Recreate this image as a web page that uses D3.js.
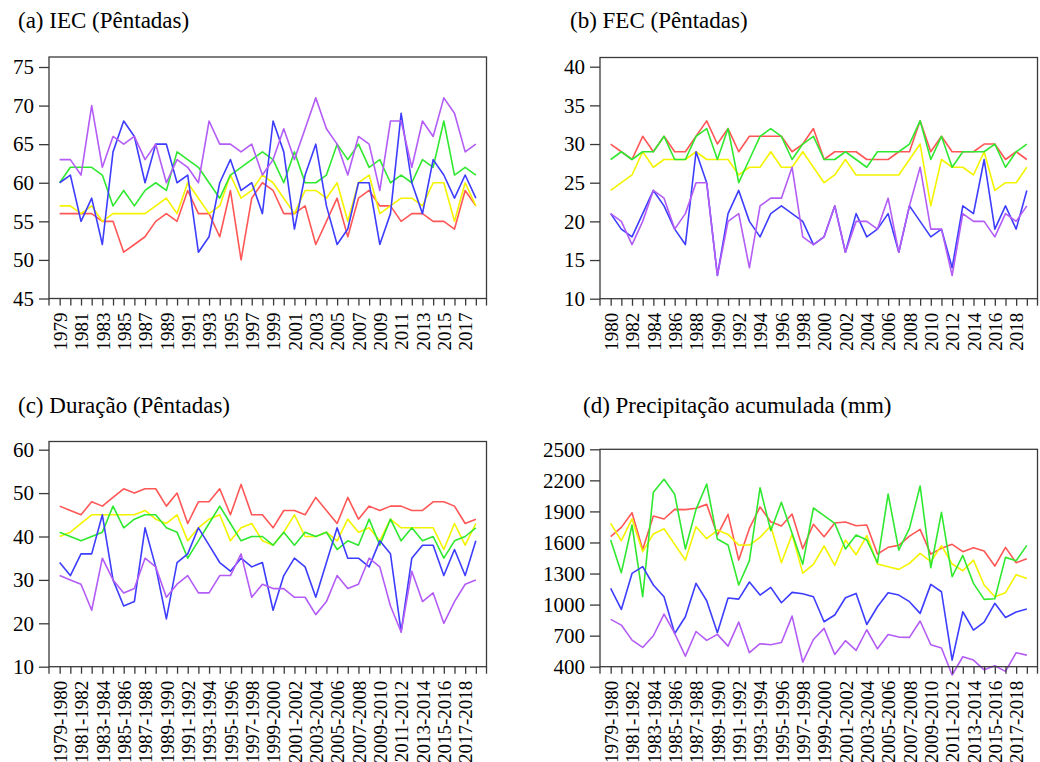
<!DOCTYPE html>
<html>
<head>
<meta charset="utf-8">
<script src="https://cdn.jsdelivr.net/npm/d3@7"></script>
<style>
  body { margin: 0; background: #fff; }
  svg { display: block; }
  text { font-family: "Liberation Serif", "Times New Roman", serif; fill: #000; }
</style>
</head>
<body>
<svg id="chart" width="1040" height="762"></svg>
<script>
// ---- Categories (x axis) ----
const yearsA = d3.range(1979, 2019).map(String);            // IEC: 1979..2018
const yearsB = d3.range(1980, 2020).map(String);            // FEC: 1980..2019
const seasons = d3.range(1979, 2019).map(y => y + "-" + (y + 1)); // 1979-1980..2018-2019

// ---- Y tick values ----
const ticksA = [45, 50, 55, 60, 65, 70, 75];
const ticksB = [10, 15, 20, 25, 30, 35, 40];
const ticksC = [10, 20, 30, 40, 50, 60];
const ticksD = [400, 700, 1000, 1300, 1600, 1900, 2200, 2500];

// ---- (a) IEC, pentads ----
const iecRed    = [56,56,56,56,55,55,51,52,53,55,56,55,59,56,56,53,59,50,58,60,59,56,56,57,52,55,58,53,58,59,57,57,55,56,56,55,55,54,59,57];
const iecYellow = [57,57,56,57,55,56,56,56,56,57,58,56,60,58,56,57,61,58,59,61,60,58,56,59,59,58,60,55,60,61,56,57,58,58,57,60,60,55,60,57];
const iecGreen  = [60,62,62,62,61,57,59,57,59,60,59,64,63,62,60,58,61,62,63,64,63,60,64,60,60,61,65,63,65,62,63,60,61,60,63,62,68,61,62,61];
const iecBlue   = [60,61,55,58,52,64,68,66,60,65,65,60,61,51,53,60,63,59,60,56,68,64,54,61,65,57,52,54,60,60,52,56,69,60,56,63,61,58,61,58];
const iecPurple = [63,63,61,70,62,66,65,66,63,65,60,63,62,60,68,65,65,64,65,61,63,67,63,67,71,67,65,61,66,65,59,68,68,62,68,66,71,69,64,65];

// ---- (b) FEC, pentads ----
const fecRed    = [30,29,28,31,29,31,29,29,31,33,30,32,29,31,31,31,31,29,30,32,28,29,29,29,28,28,28,29,29,33,29,31,29,29,29,30,30,28,29,28];
const fecYellow = [24,25,26,29,27,28,28,28,29,28,28,28,26,27,27,29,27,27,29,27,25,26,28,26,26,26,26,26,28,30,22,28,27,27,26,29,24,25,25,27];
const fecGreen  = [28,29,28,29,29,31,28,28,31,32,28,32,25,28,31,32,31,28,30,31,28,28,29,28,27,29,29,29,30,33,28,31,27,29,29,29,30,27,29,30];
const fecBlue   = [21,19,18,21,24,22,19,17,29,25,13,21,24,20,18,21,22,21,20,17,18,22,16,21,18,19,21,16,22,20,18,19,14,22,21,28,19,22,19,24];
const fecPurple = [21,20,17,20,24,23,19,21,25,25,13,20,21,14,22,23,23,27,18,17,18,22,16,20,20,19,23,16,22,27,19,19,13,21,20,20,18,21,20,22];

// ---- (c) Duration, pentads ----
const durRed    = [47,46,45,48,47,49,51,50,51,51,47,50,43,48,48,51,45,52,45,45,42,46,46,45,49,46,43,49,44,47,46,47,47,46,46,48,48,47,43,44];
const durYellow = [40,41,43,45,45,45,45,45,46,44,43,45,39,42,44,45,39,42,43,39,38,41,45,40,40,41,39,44,41,42,39,44,42,42,42,42,37,43,38,43];
const durGreen  = [41,40,39,40,41,47,42,44,45,45,42,41,35,39,43,47,43,39,40,40,38,41,38,41,40,41,37,39,38,44,38,44,39,42,39,40,35,39,40,42];
const durBlue   = [34,31,36,36,45,30,24,25,42,33,21,34,36,42,38,34,32,35,33,34,23,31,35,33,26,34,42,35,35,33,39,36,18,35,38,38,31,37,31,39];
const durPurple = [31,30,29,23,35,30,27,28,35,33,26,29,31,27,27,31,31,36,26,29,28,28,26,26,22,25,31,28,29,35,33,24,18,32,25,27,20,25,29,30];

// ---- (d) Accumulated precipitation, mm ----
const preRed    = [1656,1746,1888,1533,1856,1827,1920,1917,1930,1968,1672,1872,1430,1736,1943,1801,1759,1875,1540,1776,1656,1788,1798,1762,1769,1488,1553,1572,1662,1727,1488,1543,1582,1511,1550,1517,1372,1553,1404,1443];
const preYellow = [1785,1617,1827,1511,1682,1733,1582,1430,1752,1636,1720,1678,1575,1575,1649,1759,1404,1678,1304,1388,1566,1379,1624,1482,1666,1392,1366,1340,1398,1495,1414,1569,1392,1327,1430,1189,1076,1115,1289,1253];
const preGreen  = [1624,1308,1769,1076,2084,2210,2065,1537,1920,2165,1633,1575,1189,1424,2129,1714,1988,1688,1390,1933,1859,1785,1537,1672,1624,1404,2068,1527,1736,2146,1356,1891,1269,1475,1205,1050,1057,1456,1424,1572];
const preBlue   = [1156,953,1301,1366,1189,1076,721,883,1205,1037,728,1063,1053,1218,1092,1166,1018,1118,1105,1076,834,899,1066,1108,808,979,1115,1092,1028,915,1195,1124,464,931,754,831,1012,876,928,957];
const prePurple = [857,802,657,586,699,908,721,502,740,654,712,599,831,535,622,612,634,889,445,663,770,518,651,557,757,573,712,686,683,841,612,580,320,496,464,370,409,355,535,512];

const colors = { red: "#ff5656", yellow: "#f4f400", green: "#30e830", blue: "#3d3dff", purple: "#b35cf6" };

const panels = [
  { title: "(a) IEC (Pêntadas)", tx: 18, ty: 28, labels: yearsA, ticks: ticksA,
    left: 49, right: 486.5, top: 57, bottom: 298.5, yTopVal: 75, yTopPx: 67,
    series: [["red", iecRed], ["yellow", iecYellow], ["green", iecGreen], ["blue", iecBlue], ["purple", iecPurple]] },
  { title: "(b) FEC (Pêntadas)", tx: 570, ty: 28, labels: yearsB, ticks: ticksB,
    left: 600, right: 1037.5, top: 57.5, bottom: 298.7, yTopVal: 40, yTopPx: 66.7,
    series: [["red", fecRed], ["yellow", fecYellow], ["green", fecGreen], ["blue", fecBlue], ["purple", fecPurple]] },
  { title: "(c) Duração (Pêntadas)", tx: 18, ty: 413, labels: seasons, ticks: ticksC,
    left: 49, right: 486.5, top: 441.5, bottom: 666.7, yTopVal: 60, yTopPx: 449.7,
    series: [["red", durRed], ["yellow", durYellow], ["green", durGreen], ["blue", durBlue], ["purple", durPurple]] },
  { title: "(d) Precipitação acumulada (mm)", tx: 583, ty: 413, labels: seasons, ticks: ticksD,
    left: 600, right: 1037.5, top: 449.3, bottom: 666.7, yTopVal: 2500, yTopPx: 449.3,
    series: [["red", preRed], ["yellow", preYellow], ["green", preGreen], ["blue", preBlue], ["purple", prePurple]] }
];

const svg = d3.select("#chart");

panels.forEach(p => {
  const n = p.labels.length;
  const g = svg.append("g");
  const x = d3.scaleLinear().domain([-1, n]).range([p.left, p.right]);
  const y = d3.scaleLinear().domain([p.ticks[0], p.yTopVal]).range([p.bottom, p.yTopPx]);

  // panel title
  g.append("text").attr("x", p.tx).attr("y", p.ty)
    .style("font-size", "23px").text(p.title);

  // one polyline per series
  const line = d3.line().x((d, i) => x(i)).y(d => y(d));
  p.series.forEach(([c, vals]) => {
    g.append("path").datum(vals)
      .attr("fill", "none").attr("stroke", colors[c])
      .attr("stroke-width", 1.6).attr("stroke-linejoin", "round")
      .attr("d", line);
  });

  // plot box
  g.append("rect").attr("x", p.left).attr("y", p.top)
    .attr("width", p.right - p.left).attr("height", p.bottom - p.top)
    .attr("fill", "none").attr("stroke", "#3a3a3a").attr("stroke-width", 1.3);
  [p.left, p.right].forEach(xx => {
    g.append("line").attr("x1", xx).attr("x2", xx).attr("y1", p.bottom).attr("y2", p.bottom + 7)
      .attr("stroke", "#3a3a3a").attr("stroke-width", 1.3);
  });

  // y axis
  const ya = g.append("g").attr("transform", `translate(${p.left},0)`)
    .call(d3.axisLeft(y).tickValues(p.ticks).tickSize(10).tickPadding(5).tickFormat(d3.format("d")));
  ya.select(".domain").remove();
  ya.selectAll("line").attr("stroke", "#3a3a3a").attr("stroke-width", 1.3);
  ya.selectAll("text").style("font-size", "21px").style("font-family", '"Liberation Serif", serif').attr("fill", "#000");

  // x axis: a tick per category, label on every other one
  const xa = g.append("g").attr("transform", `translate(0,${p.bottom})`)
    .call(d3.axisBottom(x).tickValues(d3.range(n)).tickSize(7)
      .tickFormat(i => (i % 2 === 0 ? p.labels[i] : "")));
  xa.select(".domain").remove();
  xa.selectAll("line").attr("stroke", "#3a3a3a").attr("stroke-width", 1.3);
  xa.selectAll("text")
    .style("font-size", "19px").style("font-family", '"Liberation Serif", serif').attr("fill", "#000")
    .attr("text-anchor", "end")
    .attr("transform", "rotate(-90)")
    .attr("x", -14).attr("y", 0).attr("dy", "0.35em");
});
</script>
</body>
</html>
